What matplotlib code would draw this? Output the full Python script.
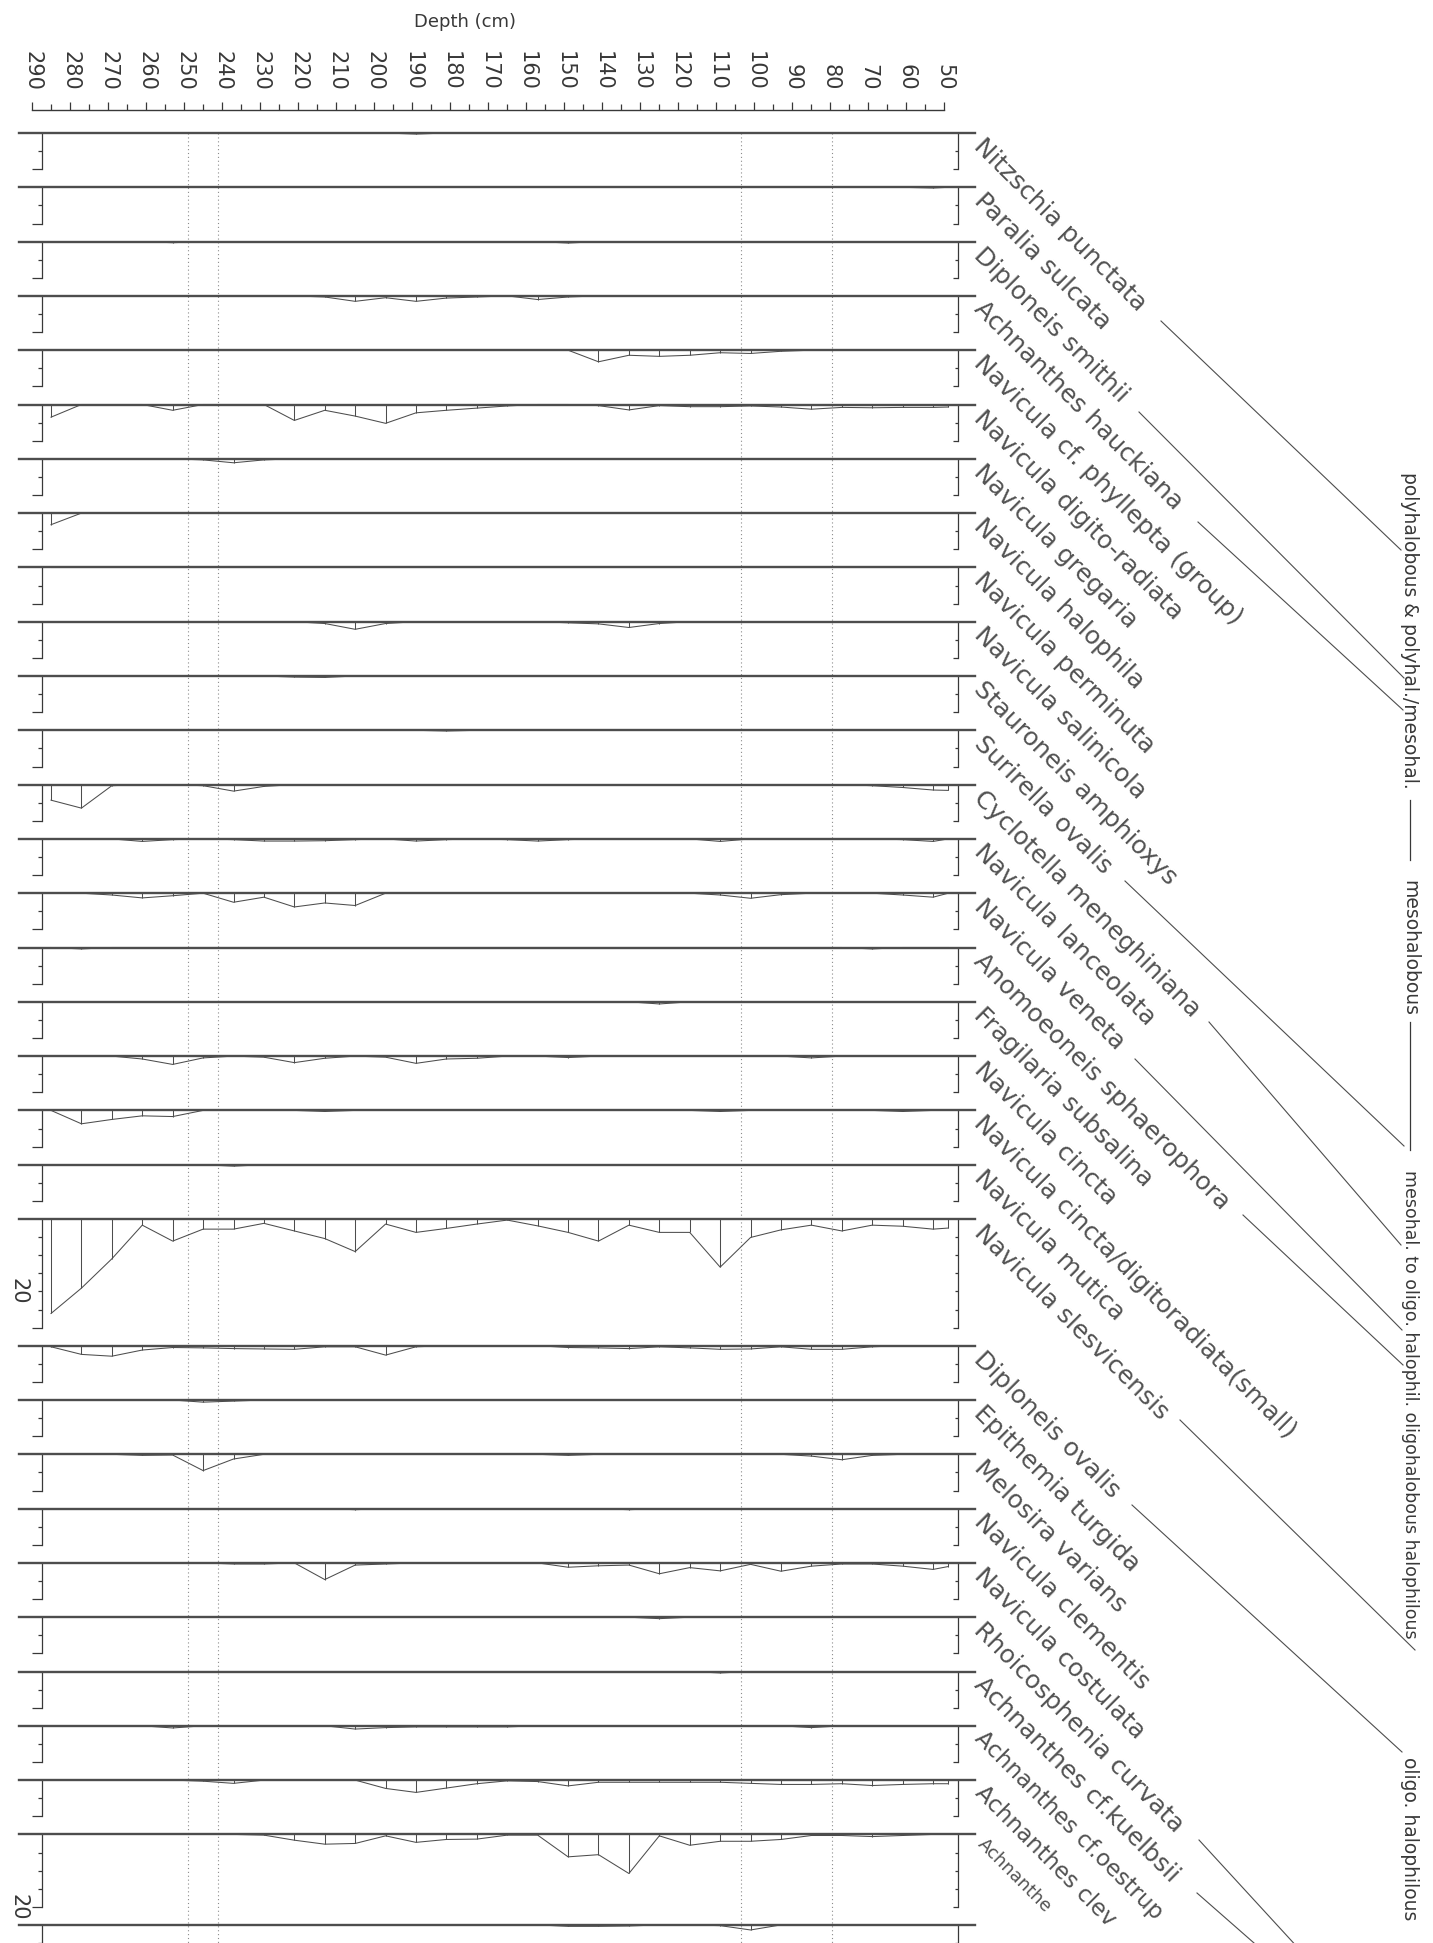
"""
Diatom percentage diagram, rotated layout: one strip per taxon, depth along
the top (290 cm left -> 50 cm right), relative abundance hanging below each
baseline.  Ecological groups are bracketed on the right.

Output: out.png
"""

import numpy as np
import matplotlib

matplotlib.use("Agg")
import matplotlib.pyplot as plt
from matplotlib.lines import Line2D

# --- Data -----------------------------------------------------------------
depths = [285, 277, 269, 261, 253, 245, 237, 229, 221, 213, 205, 197, 189,
          181, 173, 165, 157, 149, 141, 133, 125, 117, 109, 101, 93, 85,
          77, 69, 61, 53, 49]

depth_ticks = list(range(290, 49, -10))
zone_depths = [249, 241, 103.5, 79.5]

nitzschia_punctata = [0, 0, 0, 0, 0, 0, 0, 0, 0, 0,
                      0, 0, 0.3, 0, 0, 0, 0, 0, 0, 0,
                      0, 0, 0, 0, 0, 0, 0, 0, 0, 0, 0]
paralia_sulcata = [0, 0, 0, 0, 0, 0, 0, 0, 0, 0,
                   0, 0, 0, 0, 0, 0, 0, 0, 0, 0,
                   0, 0, 0, 0, 0, 0, 0, 0, 0, 0.2, 0]
diploneis_smithii = [0, 0, 0, 0, 0.3, 0, 0, 0, 0, 0,
                     0, 0, 0, 0, 0, 0, 0, 0.4, 0, 0,
                     0, 0, 0, 0, 0, 0, 0, 0, 0, 0, 0]
achnanthes_hauckiana = [0, 0, 0, 0, 0, 0, 0, 0, 0, 0.3,
                        1.5, 0.5, 1.5, 0.6, 0.3, 0, 1.0, 0.3, 0, 0,
                        0, 0, 0, 0, 0, 0, 0, 0, 0, 0, 0]
navicula_phyllepta = [0, 0, 0, 0, 0, 0, 0, 0, 0, 0,
                      0, 0, 0, 0, 0, 0, 0, 0, 3.2, 1.4,
                      1.7, 1.4, 0.7, 0.9, 0.3, 0, 0, 0, 0, 0, 0]
navicula_digitoradiata = [3.5, 0, 0, 0, 1.6, 0, 0, 0, 4.4, 1.6,
                          3.2, 5.2, 2.3, 1.6, 1.0, 0.4, 0, 0, 0.3, 1.5,
                          0.3, 0.6, 0.6, 0.4, 0.7, 1.3, 0.8, 0.9, 0.8, 0.8, 0.7]
navicula_gregaria = [0, 0, 0, 0, 0, 0.3, 1.1, 0.3, 0, 0,
                     0, 0, 0, 0, 0, 0, 0, 0, 0, 0,
                     0, 0, 0, 0, 0, 0, 0, 0, 0, 0, 0]
navicula_halophila = [3.2, 0, 0, 0, 0, 0, 0, 0, 0, 0,
                      0, 0, 0, 0, 0, 0, 0, 0, 0, 0,
                      0, 0, 0, 0, 0, 0, 0, 0, 0, 0, 0]
navicula_perminuta = [0, 0, 0, 0, 0, 0, 0, 0, 0, 0,
                      0, 0, 0, 0, 0, 0, 0, 0, 0, 0,
                      0, 0, 0, 0, 0, 0, 0, 0, 0, 0, 0]
navicula_salinicola = [0, 0, 0, 0, 0, 0, 0, 0, 0, 0.5,
                       2.1, 0.5, 0, 0, 0, 0, 0, 0.3, 0.6, 1.6,
                       0.5, 0, 0, 0, 0, 0, 0, 0, 0, 0, 0]
stauroneis_amphioxys = [0, 0, 0, 0, 0, 0, 0, 0, 0.3, 0.4,
                        0, 0, 0, 0, 0, 0, 0, 0, 0, 0,
                        0, 0, 0, 0, 0, 0, 0, 0, 0, 0, 0]
surirella_ovalis = [0, 0, 0, 0, 0, 0, 0, 0, 0, 0,
                    0, 0, 0, 0.2, 0, 0, 0, 0, 0, 0,
                    0, 0, 0, 0, 0, 0, 0, 0, 0, 0, 0]
cyclotella_meneghiniana = [4.3, 6.5, 0.3, 0, 0, 0.3, 1.8, 0.5, 0, 0,
                           0, 0, 0, 0, 0, 0, 0, 0, 0, 0,
                           0, 0, 0, 0, 0, 0, 0, 0.3, 0.8, 1.5, 1.6]
navicula_lanceolata = [0, 0, 0, 0.7, 0.2, 0, 0.2, 0.6, 0.6, 0.5,
                       0.2, 0, 0.6, 0.2, 0, 0.2, 0.6, 0.2, 0, 0,
                       0, 0, 0.7, 0, 0, 0, 0, 0, 0.2, 0.7, 0]
navicula_veneta = [0, 0, 0.5, 1.3, 0.7, 0, 2.5, 1.1, 3.8, 2.7,
                   3.4, 0, 0, 0, 0, 0, 0, 0, 0, 0,
                   0, 0, 0.5, 1.4, 0.4, 0, 0, 0, 0.5, 1.1, 0]
anomoeoneis_sphaerophora = [0, 0.4, 0, 0, 0, 0, 0, 0, 0, 0,
                            0, 0, 0, 0, 0, 0, 0, 0, 0, 0,
                            0, 0, 0, 0, 0, 0, 0, 0.4, 0, 0, 0]
fragilaria_subsalina = [0, 0, 0, 0, 0, 0, 0, 0, 0, 0,
                        0, 0, 0, 0, 0, 0, 0, 0, 0, 0,
                        0.6, 0, 0, 0, 0, 0, 0, 0, 0, 0, 0]
navicula_cincta = [0, 0, 0, 0.8, 2.3, 0.5, 0, 0.3, 1.8, 0.6,
                   0, 0.3, 2.0, 0.8, 0.6, 0, 0, 0.4, 0, 0,
                   0, 0, 0, 0, 0, 0.5, 0, 0, 0, 0, 0]
navicula_cincta_small = [0, 3.7, 2.5, 1.5, 1.7, 0, 0, 0, 0, 0.3,
                         0, 0, 0, 0, 0, 0, 0, 0, 0, 0,
                         0, 0, 0.3, 0, 0, 0, 0, 0, 0.3, 0, 0]
navicula_mutica = [0, 0, 0, 0, 0, 0, 0.4, 0, 0, 0,
                   0, 0, 0, 0, 0, 0, 0, 0, 0, 0,
                   0, 0, 0, 0, 0, 0, 0, 0, 0, 0, 0]
navicula_slesvicensis = [26.1, 19.1, 11.0, 1.7, 6.1, 2.8, 2.8, 1.2, 3.3, 5.4,
                         9.0, 1.4, 3.7, 2.6, 1.4, 0.3, 1.9, 3.7, 6.1, 1.7,
                         3.7, 3.7, 13.3, 5.1, 3.0, 1.7, 3.3, 1.7, 2.0, 2.8, 2.5]
diploneis_ovalis = [0.3, 2.4, 2.9, 1.2, 0.5, 0.6, 0.8, 0.9, 1.0, 0.3,
                    0.3, 2.6, 0.3, 0, 0, 0, 0, 0.5, 0.6, 0.8,
                    0.3, 0.6, 1.0, 0.9, 0.3, 1.0, 1.0, 0.3, 0, 0, 0]
epithemia_turgida = [0, 0, 0, 0, 0, 0.6, 0.3, 0, 0, 0,
                     0, 0, 0, 0, 0, 0, 0, 0, 0, 0,
                     0, 0, 0, 0, 0, 0, 0, 0, 0, 0, 0]
melosira_varians = [0, 0, 0, 0.3, 0.2, 4.5, 1.3, 0, 0, 0,
                    0, 0, 0, 0, 0, 0, 0, 0.3, 0, 0,
                    0, 0, 0, 0, 0, 0.5, 1.5, 0.3, 0, 0, 0]
navicula_clementis = [0, 0, 0, 0, 0, 0, 0, 0, 0, 0,
                      0.3, 0, 0, 0, 0, 0, 0, 0, 0, 0.3,
                      0, 0, 0, 0, 0, 0, 0, 0, 0, 0, 0]
navicula_costulata = [0, 0, 0, 0, 0, 0, 0.3, 0.3, 0, 4.6,
                      0.6, 0.3, 0, 0, 0, 0, 0, 1.2, 0.8, 0.6,
                      3.0, 1.3, 2.2, 0.4, 2.3, 0.9, 0.3, 0.3, 0.9, 1.8, 1.0]
rhoicosphenia_curvata = [0, 0, 0, 0, 0, 0, 0, 0, 0, 0,
                         0, 0, 0, 0, 0, 0, 0, 0, 0, 0,
                         0.4, 0, 0, 0, 0, 0, 0, 0, 0, 0, 0]
achnanthes_kuelbsii = [0, 0, 0, 0, 0, 0, 0, 0, 0, 0,
                       0, 0, 0, 0, 0, 0, 0, 0, 0, 0,
                       0, 0, 0.4, 0, 0, 0, 0, 0, 0, 0, 0]
achnanthes_oestrupii = [0, 0, 0, 0, 0.6, 0, 0, 0, 0, 0,
                        0.9, 0.5, 0.3, 0.3, 0.3, 0.3, 0, 0, 0, 0,
                        0, 0, 0, 0, 0, 0.5, 0, 0, 0, 0, 0]
achnanthes_clevei = [0, 0, 0, 0, 0, 0.3, 0.9, 0, 0, 0,
                     0, 2.3, 3.4, 2.2, 1.0, 0.2, 0.4, 1.6, 0.6, 0.6,
                     0.6, 0.6, 0.6, 0.9, 1.2, 1.2, 1.0, 1.5, 1.2, 1.0, 1.0]
achnanthes_sp = [0, 0, 0, 0, 0, 0, 0, 0.2, 1.6, 2.7,
                 2.5, 0.4, 2.2, 1.4, 1.3, 0.2, 0.2, 6.2, 5.6, 10.8,
                 0.4, 3.0, 1.9, 1.9, 1.4, 0.3, 0.3, 0.6, 0.3, 0, 0]
last_taxon = [0, 0, 0, 0, 0, 0, 0, 0, 0, 0,
              0, 0, 0, 0, 0, 0, 0, 0.4, 0.4, 0.3,
              0, 0, 0.2, 1.4, 0, 0, 0, 0, 0, 0, 0]

# names as far as the page shows them (the last ones run off the sheet)
species = ["Nitzschia punctata", "Paralia sulcata", "Diploneis smithii",
           "Achnanthes hauckiana", "Navicula cf. phyllepta (group)",
           "Navicula digito-radiata", "Navicula gregaria", "Navicula halophila",
           "Navicula perminuta", "Navicula salinicola", "Stauroneis amphioxys",
           "Surirella ovalis", "Cyclotella meneghiniana", "Navicula lanceolata",
           "Navicula veneta", "Anomoeoneis sphaerophora", "Fragilaria subsalina",
           "Navicula cincta", "Navicula cincta/digitoradiata(small)",
           "Navicula mutica", "Navicula slesvicensis", "Diploneis ovalis",
           "Epithemia turgida", "Melosira varians", "Navicula clementis",
           "Navicula costulata", "Rhoicosphenia curvata",
           "Achnanthes cf.kuelbsii", "Achnanthes cf.oestrup",
           "Achnanthes clev", "Achnanthe", ""]

profiles = [nitzschia_punctata, paralia_sulcata, diploneis_smithii,
            achnanthes_hauckiana, navicula_phyllepta, navicula_digitoradiata,
            navicula_gregaria, navicula_halophila, navicula_perminuta,
            navicula_salinicola, stauroneis_amphioxys, surirella_ovalis,
            cyclotella_meneghiniana, navicula_lanceolata, navicula_veneta,
            anomoeoneis_sphaerophora, fragilaria_subsalina, navicula_cincta,
            navicula_cincta_small, navicula_mutica, navicula_slesvicensis,
            diploneis_ovalis, epithemia_turgida, melosira_varians,
            navicula_clementis, navicula_costulata, rhoicosphenia_curvata,
            achnanthes_kuelbsii, achnanthes_oestrupii, achnanthes_clevei,
            achnanthes_sp, last_taxon]

# full scale (%) of each strip
scale_max = [10] * 20 + [30] + [10] * 9 + [20] + [10]

group_labels = ["polyhalobous & polyhal./mesohal.", "mesohalobous",
                "mesohal. to oligo. halophil. oligohalobous halophilous",
                "oligo. halophilous"]

# --- Layout (pixels of the 1433 x 1943 output) -----------------------------
W, H = 1433, 1943
PX_PER_CM = 3.802          # depth scale
PX_PER_PCT = 3.62          # abundance scale
X290 = 32                  # pixel x of 290 cm
Y_FIRST = 133              # pixel y of first baseline
Y_AXIS = 110               # pixel y of depth axis line

LINE_L, LINE_R = 293.5, 42.0     # baseline extent (cm)
BAR_L, BAR_R = 287.5, 46.5       # scale bars (cm)
LABEL_X = 39.0                   # species label anchor (cm)
GAP = 5                          # % gap between strips

INK = "0.22"
# smaller type for the last labels so they stay on the sheet
LABEL_SIZE = {"Achnanthes cf.oestrup": 16.5, "Achnanthes clev": 16.5,
              "Achnanthe": 13}


def fx(px):
    return px / W


def fy(py):
    return 1 - py / H


def main() -> None:
    fig = plt.figure(figsize=(W / 100, H / 100), dpi=100)
    fig.patch.set_facecolor("white")

    # main axes covers the whole figure; x = depth (cm), y = stacked %
    ax = fig.add_axes([0, 0, 1, 1])
    ax.set_xlim(290 + X290 / PX_PER_CM, 290 - (W - X290) / PX_PER_CM)
    ax.set_ylim((H - Y_FIRST) / PX_PER_PCT, -Y_FIRST / PX_PER_PCT)
    ax.axis("off")

    offsets = np.concatenate([[0], np.cumsum(np.array(scale_max) + GAP)[:-1]])
    d = np.array(depths)

    # dotted zone lines
    ax.vlines(zone_depths, 0, offsets[-1] + 20, colors="0.55",
              linestyles=(0, (1, 2.5)), linewidth=0.8, zorder=1)

    for name, vals, top, vmax in zip(species, profiles, offsets, scale_max):
        v = np.array(vals, dtype=float)
        ax.plot([LINE_L, LINE_R], [top, top], color="0.3", lw=1.7, zorder=3)
        ax.plot(d, top + v, color="0.3", lw=0.75, zorder=2)
        ax.vlines(d, top, top + v, colors="0.3", linewidth=0.75, zorder=2)

        # scale bars with ticks every 5 %
        ticks = np.arange(5, vmax + 1, 5)
        for bar, short, long_ in [(BAR_L, 0.9, 2.4), (BAR_R, 0.8, 1.3)]:
            ax.plot([bar, bar], [top, top + vmax], color=INK, lw=0.9)
            ax.hlines(top + ticks[:-1], bar, bar + short, colors=INK, lw=0.9)
            ax.hlines(top + vmax, bar, bar + long_, colors=INK, lw=0.9)

        if vmax > 10:
            ax.text(293.6, top + 20, "20", rotation=-90, ha="center",
                    va="center", fontsize=15, color=INK)

        if name:
            ax.text(LABEL_X, top + 0.3, name, rotation=-45,
                    rotation_mode="anchor", ha="left", va="top",
                    fontsize=LABEL_SIZE.get(name, 18), color="0.32")

    # --- depth axis along the top -----------------------------------------
    ax_top = fig.add_axes([fx(X290), fy(Y_AXIS), 240 * PX_PER_CM / W, 1e-6])
    ax_top.set_xlim(290, 50)
    ax_top.set_ylim(0, 1)
    ax_top.patch.set_visible(False)
    for side in ("bottom", "left", "right"):
        ax_top.spines[side].set_visible(False)
    ax_top.spines["top"].set_color(INK)
    ax_top.spines["top"].set_linewidth(1.0)
    ax_top.xaxis.tick_top()
    ax_top.set_yticks([])
    ax_top.set_xticks(depth_ticks)
    ax_top.set_xticks(np.arange(285, 50, -10), minor=True)
    ax_top.tick_params(axis="x", which="major", direction="out", length=6,
                       width=0.9, color=INK, labelsize=15, labelcolor=INK,
                       labelrotation=-90, pad=8)
    ax_top.tick_params(axis="x", which="minor", direction="out", length=4,
                       width=0.9, color=INK)
    fig.text(fx(465), fy(22), "Depth (cm)", ha="center", va="center",
             fontsize=13, color=INK)

    # --- ecological groups on the right -----------------------------------
    group_y = [630, 948, 1404, 1839]
    group_size = [13.5, 13.5, 12.5, 13.5]
    for label, yc, fs in zip(group_labels, group_y, group_size):
        fig.text(fx(1410), fy(yc), label, rotation=-90, ha="center",
                 va="center", fontsize=fs, color=INK)
    for y1, y2 in [(800, 860), (1022, 1150)]:
        fig.add_artist(Line2D([fx(1410), fx(1410)], [fy(y1), fy(y2)],
                              color=INK, lw=0.9))

    # connectors from the taxon lists to the group labels (pixel layout)
    connectors = [((1161, 321), (1401, 550)), ((1139, 412), (1404, 678)),
                  ((1198, 522), (1403, 710)), ((1125, 881), (1404, 1146)),
                  ((1209, 1022), (1401, 1245)), ((1135, 1059), (1402, 1330)),
                  ((1243, 1215), (1403, 1365)), ((1180, 1420), (1415, 1650)),
                  ((1132, 1505), (1402, 1752)), ((1199, 1840), (1300, 1950)),
                  ((1197, 1893), (1262, 1950))]
    for (x1, y1), (x2, y2) in connectors:
        fig.add_artist(Line2D([fx(x1), fx(x2)], [fy(y1), fy(y2)],
                              color="0.3", lw=0.8))

    fig.savefig("out.png", dpi=100, facecolor="white")
    plt.close(fig)


if __name__ == "__main__":
    main()
